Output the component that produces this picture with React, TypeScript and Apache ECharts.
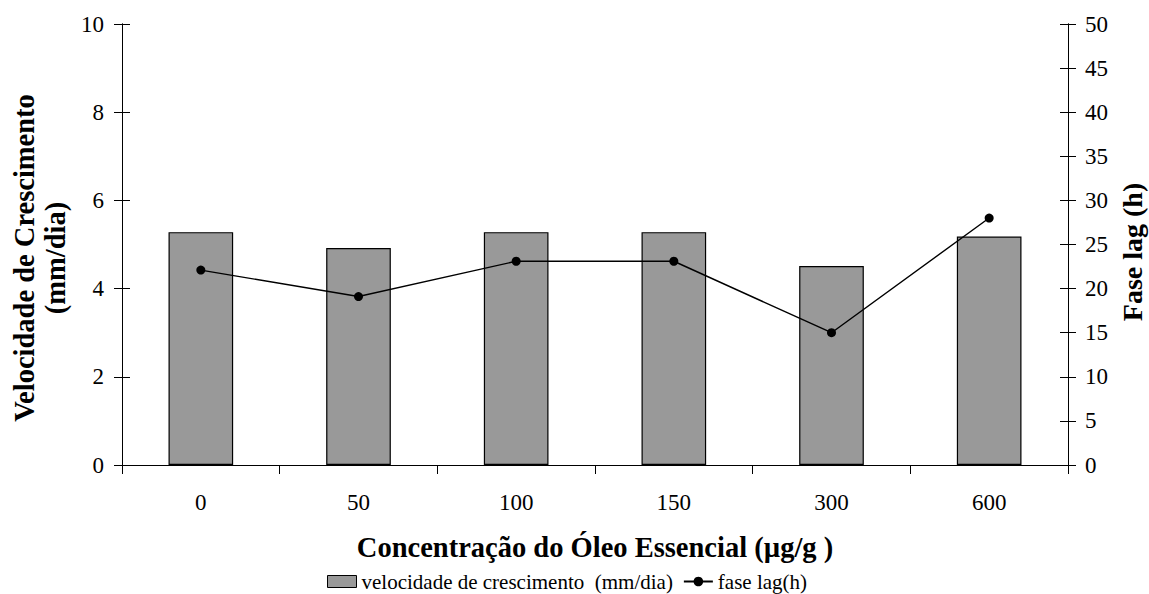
import React, { useEffect, useRef } from "react";
import * as echarts from "echarts";

const categories = ["0", "50", "100", "150", "300", "600"];
const velocidade = [5.28, 4.92, 5.28, 5.28, 4.51, 5.18];
const faseLag = [22.1, 19.1, 23.1, 23.1, 15.0, 28.0];

const FONT = "'Liberation Serif', 'Times New Roman', serif";

export default function App() {
  const ref = useRef<HTMLDivElement>(null);
  useEffect(() => {
    if (!ref.current) return;
    const chart = echarts.init(ref.current, undefined, { renderer: "svg" });
    const axisLine = { show: true, lineStyle: { color: "#000", width: 1 } };
    const label = { color: "#000", fontFamily: FONT, fontSize: 23 };
    chart.setOption({
      animation: false,
      backgroundColor: "#fff",
      textStyle: { fontFamily: FONT },
      grid: { left: 122, right: 81, top: 24, bottom: 129, containLabel: false },
      legend: {
        left: 322,
        top: 566,
        itemGap: 10,
        itemWidth: 29,
        itemHeight: 12,
        textStyle: { color: "#000", fontFamily: FONT, fontSize: 21 },
        data: [
          { name: "velocidade de crescimento  (mm/dia)", icon: "rect", itemStyle: { color: "#999999", borderColor: "#000", borderWidth: 1 } },
          { name: "fase lag(h)" },
        ],
      },
      xAxis: {
        type: "category",
        data: categories,
        boundaryGap: true,
        axisLine,
        axisTick: { show: true, length: 9, lineStyle: { color: "#000" } },
        axisLabel: { ...label, margin: 26 },
        splitLine: { show: false },
        name: "Concentração do Óleo Essencial (µg/g )",
        nameLocation: "middle",
        nameGap: 68,
        nameTextStyle: { color: "#000", fontFamily: FONT, fontSize: 28.5, fontWeight: "bold" },
      },
      yAxis: [
        {
          type: "value", min: 0, max: 10, interval: 2, position: "left",
          axisLine, axisTick: { show: true, length: 8, lineStyle: { color: "#000" } },
          axisLabel: { ...label, margin: 18 }, splitLine: { show: false },
        },
        {
          type: "value", min: 0, max: 50, interval: 5, position: "right",
          axisLine, axisTick: { show: true, length: 8, lineStyle: { color: "#000" } },
          axisLabel: { ...label, margin: 17 }, splitLine: { show: false },
        },
        {
          type: "value", min: 0, max: 10, interval: 2, position: "left",
          axisLine, axisTick: { show: true, inside: true, length: 8, lineStyle: { color: "#000" } },
          axisLabel: { show: false }, splitLine: { show: false },
        },
        {
          type: "value", min: 0, max: 50, interval: 5, position: "right",
          axisLine, axisTick: { show: true, inside: true, length: 8, lineStyle: { color: "#000" } },
          axisLabel: { show: false }, splitLine: { show: false },
        },
      ],
      graphic: [
        {
          type: "text",
          x: 40,
          y: 258,
          rotation: Math.PI / 2,
          style: {
            text: "Velocidade de Crescimento\n(mm/dia)",
            fontFamily: FONT, fontSize: 28.5, fontWeight: "bold", fill: "#000",
            align: "center", verticalAlign: "middle", lineHeight: 31,
          },
        },
        {
          type: "text",
          x: 1132,
          y: 252,
          rotation: Math.PI / 2,
          style: {
            text: "Fase lag (h)",
            fontFamily: FONT, fontSize: 28, fontWeight: "bold", fill: "#000",
            align: "center", verticalAlign: "middle",
          },
        },
      ],
      series: [
        {
          name: "velocidade de crescimento  (mm/dia)",
          type: "bar",
          data: velocidade,
          yAxisIndex: 0,
          barWidth: "41%",
          itemStyle: { color: "#999999", borderColor: "#000", borderWidth: 1.2 },
        },
        {
          name: "fase lag(h)",
          type: "line",
          data: faseLag,
          yAxisIndex: 1,
          symbol: "circle",
          symbolSize: 9,
          lineStyle: { color: "#000", width: 1.4 },
          itemStyle: { color: "#000" },
        },
      ],
    });
    return () => chart.dispose();
  }, []);
  return <div ref={ref} style={{ width: 1149, height: 594, position: "absolute", left: 0, top: 0 }} />;
}
